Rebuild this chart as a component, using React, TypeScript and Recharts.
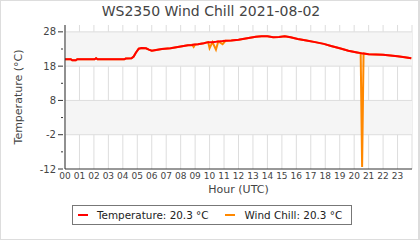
import React from 'react';
import {
  LineChart,
  Line,
  XAxis,
  YAxis,
  CartesianGrid,
  ReferenceArea,
  ReferenceLine,
  Label,
} from 'recharts';

// readings (hour of day, UTC)
const hours = [
  0.0, 0.4, 0.5, 0.75, 0.85, 2.05, 2.15, 2.25, 4.1, 4.2, 4.6, 4.75, 4.9, 5.1, 5.3, 5.6, 5.8, 6.0, 6.3,
  6.7, 7.3, 8.0, 8.5, 8.8, 8.9, 9.0, 9.2, 9.6, 9.9, 10.0, 10.2, 10.44, 10.6, 10.9, 11.1, 11.5, 12.0,
  12.7, 13.2, 13.6, 14.0, 14.4, 14.8, 15.2, 15.6, 16.1, 16.7, 17.3, 17.9, 18.4, 19.0, 19.6, 20.2,
  20.45, 20.55, 20.65, 21.0, 21.5, 22.0, 22.5, 23.0, 23.5, 23.95,
];
const temperature = [
  20.0, 20.0, 19.7, 19.7, 20.0, 20.0, 20.3, 20.0, 20.0, 20.2, 20.3, 20.8, 21.9, 23.1, 23.3, 23.2, 22.8,
  22.5, 22.7, 23.0, 23.2, 23.7, 24.1, 24.2, 24.3, 24.3, 24.4, 24.7, 25.0, 25.0, 25.0, 25.1, 25.2, 25.3,
  25.4, 25.5, 25.7, 26.2, 26.6, 26.7, 26.7, 26.4, 26.5, 26.7, 26.4, 25.9, 25.5, 25.0, 24.5, 23.9, 23.2,
  22.5, 22.0, 21.8, 21.7, 21.7, 21.5, 21.4, 21.3, 21.1, 20.9, 20.6, 20.3,
];
const windChill = [
  20.0, 20.0, 19.7, 19.7, 20.0, 20.0, 20.3, 20.0, 20.0, 20.2, 20.3, 20.8, 21.9, 23.1, 23.3, 23.2, 22.8,
  22.5, 22.7, 23.0, 23.2, 23.7, 24.1, 24.2, 23.6, 24.3, 24.4, 24.7, 25.0, 23.2, 25.0, 22.8, 25.2, 24.4,
  25.4, 25.5, 25.7, 26.2, 26.6, 26.7, 26.7, 26.4, 26.5, 26.7, 26.4, 25.9, 25.5, 25.0, 24.5, 23.9, 23.2,
  22.5, 22.0, 21.8, -11.4, 21.7, 21.5, 21.4, 21.3, 21.1, 20.9, 20.6, 20.3,
];

const hourTicks = Array.from({ length: 24 }, (_, i) => i);
const tempTicks = [-12, -7, -2, 3, 8, 13, 18, 23, 28];
const majorTicks = [-12, -2, 8, 18, 28];
const bands = [[18, 28], [-2, 8]];

const data = hours.map((h, i) => ({ hour: h, temp: temperature[i], chill: windChill[i] }));

const FONT = '"DejaVu Sans", sans-serif';
const GRID = '#dddddd';
const AXIS = '#333333';

const YTick = (props: any) => {
  const { x, y, payload } = props;
  const major = majorTicks.includes(payload.value);
  return (
    <g>
      <line x1={x - (major ? 5 : 2)} x2={x} y1={y} y2={y} stroke={AXIS} />
      {major && (
        <text x={x - 7} y={y} dy={3.5} textAnchor="end" fontSize={10} fill="#444" fontFamily={FONT}>
          {payload.value}
        </text>
      )}
    </g>
  );
};

const XTick = (props: any) => {
  const { x, y, payload } = props;
  return (
    <text x={x} y={y} dy={10} textAnchor="middle" fontSize={9} fill="#444" fontFamily={FONT}>
      {String(payload.value).padStart(2, '0')}
    </text>
  );
};

export default function App() {
  const last = temperature.length - 1;
  return (
    <div
      style={{
        position: 'absolute',
        left: 0,
        top: 0,
        width: 420,
        height: 240,
        boxSizing: 'border-box',
        border: '1px solid #dddddd',
        borderRightWidth: 2,
        background: '#fff',
        fontFamily: FONT,
      }}
    >
      <div
        style={{
          position: 'absolute',
          top: 2,
          left: 0,
          width: 420,
          textAlign: 'center',
          fontSize: 14,
          color: '#444',
        }}
      >
        WS2350 Wind Chill 2021-08-02
      </div>
      <LineChart
        width={418}
        height={238}
        data={data}
        margin={{ top: 24, right: 7, left: 0, bottom: 50 }}
        style={{ position: 'absolute', left: 0, top: 0 }}
      >
        {bands.map(([a, b]) => (
          <ReferenceArea key={a} y1={a} y2={b} fill="#f5f5f5" fillOpacity={1} stroke="none" />
        ))}
        <CartesianGrid horizontal={false} stroke={GRID} />
        {majorTicks.slice(1).map((v) => (
          <ReferenceLine key={v} y={v} stroke={GRID} />
        ))}
        <XAxis
          dataKey="hour"
          type="number"
          domain={[0, 24]}
          ticks={hourTicks}
          tickLine={false}
          tickSize={0}
          tickMargin={0}
          axisLine={{ stroke: AXIS }}
          height={20}
          tick={<XTick />}
          interval={0}
        >
          <Label
            content={({ viewBox }: any) => (
              <text
                x={viewBox.x + viewBox.width / 2}
                y={viewBox.y + 24}
                textAnchor="middle"
                fontSize={11}
                fill="#444"
                fontFamily={FONT}
              >
                Hour (UTC)
              </text>
            )}
          />
        </XAxis>
        <YAxis
          type="number"
          domain={[-12, 30]}
          ticks={tempTicks}
          width={64}
          tickLine={false}
          tickSize={0}
          axisLine={{ stroke: AXIS }}
          tick={<YTick />}
          interval={0}
        >
          <Label
            content={({ viewBox }: any) => (
              <text
                x={17}
                y={viewBox.y + viewBox.height / 2}
                transform={`rotate(-90 17 ${viewBox.y + viewBox.height / 2})`}
                textAnchor="middle"
                dominantBaseline="central"
                fontSize={11}
                fill="#444"
                fontFamily={FONT}
              >
                Temperature (°C)
              </text>
            )}
          />
        </YAxis>
        <Line
          dataKey="chill"
          stroke="#ff8800"
          strokeWidth={2}
          dot={false}
          isAnimationActive={false}
        />
        <Line
          dataKey="temp"
          stroke="#ff0000"
          strokeWidth={2}
          dot={false}
          isAnimationActive={false}
        />
      </LineChart>
      <div
        style={{
          position: 'absolute',
          left: 71,
          top: 204,
          width: 280,
          height: 20,
          boxSizing: 'border-box',
          border: '1px solid #777',
          display: 'flex',
          alignItems: 'center',
          fontSize: 10.4,
          color: '#222',
          whiteSpace: 'nowrap',
        }}
      >
        <span style={{ flex: 'none', width: 10, height: 2, background: '#ff0000', marginLeft: 5, marginRight: 9 }} />
        <span>Temperature: {temperature[last].toFixed(1)} °C</span>
        <span style={{ flex: 'none', width: 10, height: 2, background: '#ff8800', marginLeft: 16, marginRight: 10 }} />
        <span>Wind Chill: {windChill[last].toFixed(1)} °C</span>
      </div>
    </div>
  );
}
